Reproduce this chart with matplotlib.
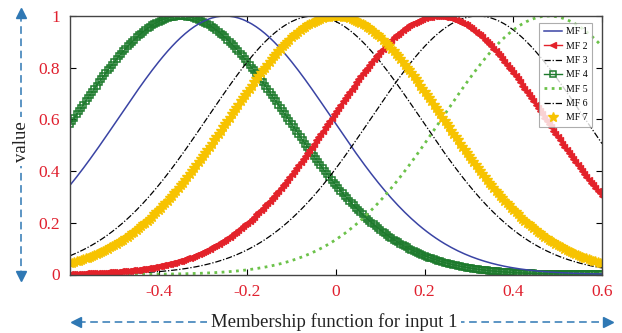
import numpy as np
import matplotlib
matplotlib.use("Agg")
import matplotlib.pyplot as plt
from matplotlib.lines import Line2D

# Gaussian membership-function parameters
mf_names = ["MF 1", "MF 2", "MF 3", "MF 4", "MF 5", "MF 6", "MF 7"]
mf_centers = [-0.25, 0.23, -0.05, -0.35, 0.48, 0.32, 0.0]
mf_sigmas = [0.24, 0.24, 0.24, 0.24, 0.24, 0.24, 0.24]
x_ticks = [-0.4, -0.2, 0, 0.2, 0.4, 0.6]
x_ticklabels = ["-0.4", "-0.2", "0", "0.2", "0.4", "0.6"]
y_ticks = [0, 0.2, 0.4, 0.6, 0.8, 1]
y_ticklabels = ["0", "0.2", "0.4", "0.6", "0.8", "1"]
x_label = "Membership function for input 1"
y_label = "value"

styles = [
    dict(color="#3a44a4", ls="-", lw=1.1),
    dict(color="#e3222a", ls="-", lw=1.0, marker="<", ms=4.3, mec="#e3222a"),
    dict(color="black", ls=(0, (5, 1.5, 1, 1.5)), lw=0.9),
    dict(color="#1d7a2c", ls="-", lw=1.0, marker="s", ms=3.8, mfc="none", mec="#1d7a2c", mew=1.1),
    dict(color="#6cc24a", ls=(0, (1, 1.6)), lw=2.0),
    dict(color="black", ls=(0, (5, 1.5, 1, 1.5)), lw=0.9),
    dict(color="#f7c300", ls="none", marker="*", ms=7, mec="#f7c300"),
]

serif = ["Liberation Serif", "DejaVu Serif"]
plt.rcParams["font.family"] = serif

fig = plt.figure(figsize=(6.22, 3.33), dpi=100)
ax = fig.add_axes([70 / 622, 1 - 274.5 / 333, (602 - 70) / 622, (274.5 - 16) / 333])

x = np.linspace(-0.6, 0.6, 241)
order = [3, 0, 2, 5, 4, 1, 6]
handles = {}
for i in order:
    y = np.exp(-((x - mf_centers[i]) ** 2) / (2 * mf_sigmas[i] ** 2))
    h, = ax.plot(x, y, label=mf_names[i], **styles[i])
    handles[i] = h

ax.set_xlim(-0.6, 0.6)
ax.set_ylim(0, 1)
ax.set_xticks(x_ticks)
ax.set_xticklabels(x_ticklabels)
ax.set_yticks(y_ticks)
ax.set_yticklabels(y_ticklabels)
ax.tick_params(direction="in", length=4, width=0.8, top=True, right=True,
               labelcolor="#e0202e", labelsize=12.5, pad=7)
for s in ax.spines.values():
    s.set_color("#444444")
    s.set_linewidth(1.0)

leg = ax.legend([handles[i] for i in range(7)], mf_names, loc="upper right",
                bbox_to_anchor=(1.0 - 8 / 532, 1.0 - 5 / 258.5), fontsize=7,
                frameon=True, fancybox=False, edgecolor="#999999", handlelength=1.9,
                labelspacing=0.55, borderpad=0.45, handletextpad=0.4, borderaxespad=0.2)
leg.get_frame().set_linewidth(0.8)

arrow_c = "#2f78b4"
# horizontal dashed arrow with label
fy = 1 - 322 / 333
fig.add_artist(Line2D([78 / 622, 606 / 622], [fy, fy], transform=fig.transFigure,
                      color=arrow_c, ls=(0, (5, 3)), lw=1.1))
fig.add_artist(Line2D([76 / 622], [fy], transform=fig.transFigure, marker="<",
                      color=arrow_c, ms=7, ls="none"))
fig.add_artist(Line2D([608 / 622], [fy], transform=fig.transFigure, marker=">",
                      color=arrow_c, ms=7, ls="none"))
fig.text(334 / 622, fy, x_label, ha="center", va="center", fontsize=13.5, color="#222222",
         bbox=dict(facecolor="white", edgecolor="none", pad=3))

# vertical dashed arrow with label
fx = 21 / 622
fig.add_artist(Line2D([fx, fx], [1 - 14 / 333, 1 - 274 / 333], transform=fig.transFigure,
                      color=arrow_c, ls=(0, (5, 3)), lw=1.1))
fig.add_artist(Line2D([fx], [1 - 13 / 333], transform=fig.transFigure, marker="^",
                      color=arrow_c, ms=7, ls="none"))
fig.add_artist(Line2D([fx], [1 - 276 / 333], transform=fig.transFigure, marker="v",
                      color=arrow_c, ms=7, ls="none"))
fig.text(fx, 1 - 142 / 333, y_label, ha="center", va="center", rotation=90, fontsize=13.5,
         color="#222222", bbox=dict(facecolor="white", edgecolor="none", pad=3))

fig.savefig("out.png", dpi=100)
